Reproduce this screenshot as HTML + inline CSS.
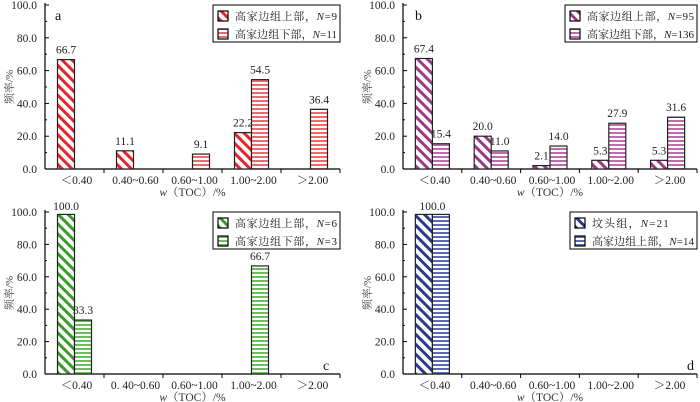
<!DOCTYPE html>
<html><head><meta charset="utf-8"><style>
body{margin:0;background:#fff;}
svg{display:block;font-family:"Liberation Serif","Noto Serif CJK SC",serif;}
</style></head><body>
<svg id="chart" width="700" height="402" viewBox="0 0 700 402">
<defs>
<pattern id="diag-red" patternUnits="userSpaceOnUse" width="7" height="7" patternTransform="rotate(-45)"><rect width="7" height="7" fill="#fff"/><rect width="3" height="7" fill="#e8232a"/></pattern>
<pattern id="hor-red" patternUnits="userSpaceOnUse" width="4" height="4"><rect width="4" height="4" fill="#fff"/><rect width="4" height="2" fill="#ef6a6a"/></pattern>
<pattern id="diag-pur" patternUnits="userSpaceOnUse" width="7" height="7" patternTransform="rotate(-45)"><rect width="7" height="7" fill="#fff"/><rect width="3" height="7" fill="#9a3a86"/></pattern>
<pattern id="hor-pur" patternUnits="userSpaceOnUse" width="4" height="4"><rect width="4" height="4" fill="#fff"/><rect width="4" height="2" fill="#c06ab0"/></pattern>
<pattern id="diag-grn" patternUnits="userSpaceOnUse" width="7" height="7" patternTransform="rotate(-45)"><rect width="7" height="7" fill="#fff"/><rect width="3" height="7" fill="#3a9a2a"/></pattern>
<pattern id="hor-grn" patternUnits="userSpaceOnUse" width="4" height="4"><rect width="4" height="4" fill="#fff"/><rect width="4" height="2" fill="#6cc05a"/></pattern>
<pattern id="diag-blu" patternUnits="userSpaceOnUse" width="7" height="7" patternTransform="rotate(-45)"><rect width="7" height="7" fill="#fff"/><rect width="3" height="7" fill="#2a3a8a"/></pattern>
<pattern id="hor-blu" patternUnits="userSpaceOnUse" width="4" height="4"><rect width="4" height="4" fill="#fff"/><rect width="4" height="2" fill="#5a6ab8"/></pattern>
</defs>
</svg>
<script>
const categories = ["<0.40","0.40~0.60","0.60~1.00","1.00~2.00",">2.00"];
const categoriesC = ["<0.40","0. 40~0.60","0.60~1.00","1.00~2.00",">2.00"];
const yTicks = ["0.0","20.0","40.0","60.0","80.0","100.0"];
const aUpper = [66.7, 11.1, null, 22.2, null];
const aLower = [null, null, 9.1, 54.5, 36.4];
const bUpper = [67.4, 20.0, 2.1, 5.3, 5.3];
const bLower = [15.4, 11.0, 14.0, 27.9, 31.6];
const cUpper = [100.0, null, null, null, null];
const cLower = [33.3, null, null, 66.7, null];
const dUpper = [100.0, null, null, null, null];
const dLower = [100.0, null, null, null, null];
const legA = ["高家边组上部，", "N", "=9", "高家边组下部，", "N", "=11"];
const legB = ["高家边组上部，", "N", "=95", "高家边组下部，", "N", "=136"];
const legC = ["高家边组上部，", "N", "=6", "高家边组下部，", "N", "=3"];
const legD = ["坟头组，", "N", "=21", "高家边组上部，", "N", "=14"];

const svg = document.getElementById('chart');
const NS = 'http://www.w3.org/2000/svg';
function mk(tag, attrs, parent){const e=document.createElementNS(NS,tag);for(const k in attrs)e.setAttribute(k,attrs[k]);(parent||svg).appendChild(e);return e;}

function panel(p){
  const g = mk('g',{});
  
  
  const x0=p.x0, x1=p.x1, yB=p.yB, yT=p.yT;
  const ys = v => yB - (yB-yT)*v/100;
  const cw = (x1-x0)/p.cats.length;
  const cx = i => x0 + cw*(i+0.5);
  const ya = mk('line',{x1:x0,y1:yT-2,x2:x0,y2:yB,stroke:'#000','stroke-width':1.2},g);
   
  const xa = mk('line',{x1:x0,y1:yB,x2:x1,y2:yB,stroke:'#000','stroke-width':1.2},g);
   
  yTicks.forEach((t,i)=>{
    const v=i*20, y=ys(v);
    mk('line',{x1:x0,y1:y,x2:x0+4,y2:y,stroke:'#000'},g);
    if(i<5) mk('line',{x1:x0,y1:ys(v+10),x2:x0+2,y2:ys(v+10),stroke:'#000'},g);
    const tx = mk('text',{x:x0-8,y:y+4,'text-anchor':'end','font-size':11.5,fill:'#222'},g);
    tx.textContent=t;
     
  });
  p.cats.forEach((c,i)=>{
    const xt = x0+cw*(i+1);
    mk('line',{x1:xt,y1:yB,x2:xt,y2:yB+4,stroke:'#000'},g);
    const tx = mk('text',{x:cx(i)+2,y:yB+15,'text-anchor':'middle','font-size':11.5,fill:'#222'},g);
    tx.textContent=c.replace('<','＜').replace('>','＞');
     
  });
  const bw=17;
  [[p.up,p.fu,-bw],[p.lo,p.fl,0]].forEach(([arr,fill,off],si)=>{
    arr.forEach((v,i)=>{
      if(v===null) return;
      const x=cx(i)+off, y=ys(Math.min(v,98.5));
      const r=mk('rect',{x:x,y:y,width:bw,height:yB-y,fill:'url(#'+fill+')',stroke:'#222','stroke-width':1.2},g);
      
      
      const same = si===1 && p.up[i]===v;
      if(si===0 && p.lo[i]===v){
        const t=mk('text',{x:cx(i),y:ys(v)-2,'text-anchor':'middle','font-size':11.5,fill:'#222'},g);
        t.textContent=v.toFixed(1);
         
        return;
      }
      if(same) return;
      const ly = v>=99 ? ys(v)-2 : ys(v)-6;
      const t=mk('text',{x:x+bw/2,y:ly,'text-anchor':'middle','font-size':11.5,fill:'#222'},g);
      t.textContent=v.toFixed(1);
       
    });
  });
  const yt=mk('text',{x:0,y:0,'text-anchor':'middle','font-size':11,fill:'#444',transform:`translate(${x0-32},${(yB+yT)/2}) rotate(-90)`},g);
  yt.textContent='频率/%';
   
  const xtt=mk('text',{x:(x0+x1)/2,y:yB+27,'text-anchor':'middle','font-size':11.5,fill:'#333'},g);
  xtt.innerHTML='<tspan font-style="italic">w</tspan>（TOC）/%';
   
  const lg=mk('g',{},g);
   
  mk('rect',{x:p.lx,y:yT,width:x1-p.lx,height:37,fill:'#fff',stroke:'#000','stroke-width':1},lg);
  [[p.fu,0],[p.fl,1]].forEach(([f,k])=>{
    const yy=yT+6+k*18;
    mk('rect',{x:p.lx+5,y:yy,width:10,height:10,fill:'url(#'+f+')',stroke:'#000','stroke-width':1.2},lg);
    const t=mk('text',{x:p.lx+22,y:yy+9,'font-size':11,fill:'#222'},lg);
    t.innerHTML=p.leg[k*3]+'<tspan font-style="italic">'+p.leg[k*3+1]+'</tspan>'+p.leg[k*3+2];
     
    const avail = x1 - p.lx - 25;
    const len = t.getComputedTextLength();
    if(len > avail) t.setAttribute('textLength', avail);
    else t.setAttribute('textLength', Math.min(avail, len*1.12));
    t.setAttribute('lengthAdjust','spacing');
  });
  const pl=mk('text',{x:p.px,y:p.py,'font-size':14,fill:'#111'},g);
  pl.textContent=p.id;
   
}
panel({id:'a',x0:45,x1:340,yB:169,yT:5,cats:categories,up:aUpper,lo:aLower,fu:'diag-red',fl:'hor-red',lx:213,leg:legA,px:55,py:20});
panel({id:'b',x0:403,x1:697,yB:169,yT:5,cats:categories,up:bUpper,lo:bLower,fu:'diag-pur',fl:'hor-pur',lx:565,leg:legB,px:415,py:20});
panel({id:'c',x0:45,x1:340,yB:374,yT:212,cats:categoriesC,up:cUpper,lo:cLower,fu:'diag-grn',fl:'hor-grn',lx:213,leg:legC,px:323,py:370});
panel({id:'d',x0:403,x1:697,yB:374,yT:212,cats:categories,up:dUpper,lo:dLower,fu:'diag-blu',fl:'hor-blu',lx:570,leg:legD,px:687,py:370});
</script>
</body></html>
